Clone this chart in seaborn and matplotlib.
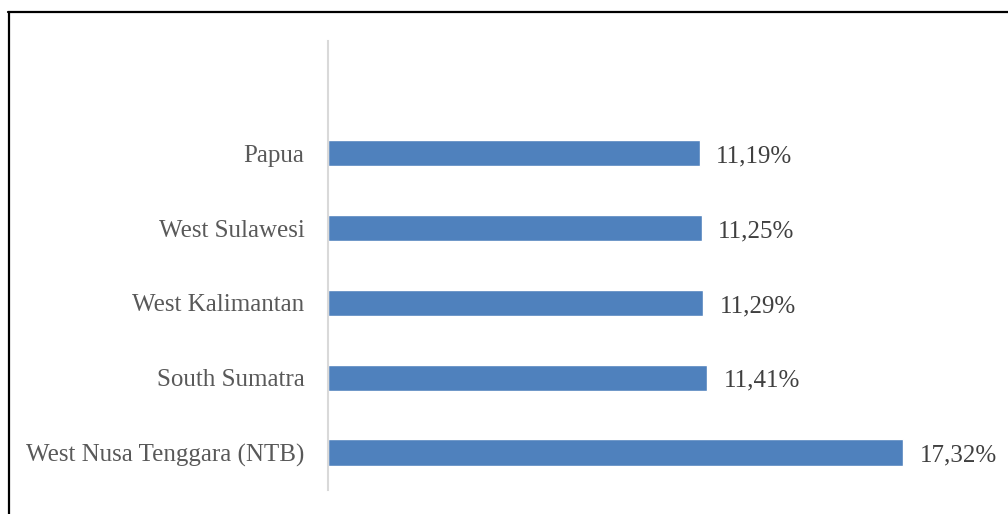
import matplotlib
matplotlib.use("Agg")
import matplotlib.pyplot as plt
import pandas as pd
import seaborn as sns
from matplotlib.lines import Line2D

provinces = ["Papua", "West Sulawesi", "West Kalimantan", "South Sumatra", "West Nusa Tenggara (NTB)"]
values = [11.19, 11.25, 11.29, 11.41, 17.32]


def main():
    sns.set_theme()
    sns.set_style("white")
    plt.rcParams["font.family"] = ["Liberation Serif", "DejaVu Serif"]

    df = pd.DataFrame({"province": provinces, "value": values})

    fig = plt.figure(figsize=(10.08, 5.14), dpi=100)
    ax = fig.add_axes([328 / 1008, 24 / 514, 664 / 1008, 449 / 514])

    sns.barplot(data=df, x="value", y="province", order=provinces, orient="h",
                color="#4F81BD", saturation=1, width=0.35, ax=ax)

    ax.set_xlim(0, 20)
    ax.set_ylim(4.5, -1.5)
    ax.set_xlabel("")
    ax.set_ylabel("")
    ax.set_xticks([])
    for side in ["top", "right", "bottom"]:
        ax.spines[side].set_visible(False)
    ax.spines["left"].set_color("#D9D9D9")
    ax.spines["left"].set_linewidth(1.5)
    ax.tick_params(axis="y", length=0, pad=17, labelsize=18, labelcolor="#595959")

    # data labels, slightly below the bar centre like the original
    for bar, v in zip(ax.containers[0], values):
        label = f"{v:.2f}%".replace(".", ",")
        ax.annotate(label, (bar.get_width(), bar.get_y() + bar.get_height() / 2),
                    xytext=(12, -2.2), textcoords="offset points",
                    ha="left", va="center", fontsize=18, color="#404040")

    # outer frame (right and bottom edges fall outside the image)
    fig.add_artist(Line2D([8 / 1008, 1.0], [502.5 / 514, 502.5 / 514], transform=fig.transFigure,
                          color="black", linewidth=1.6))
    fig.add_artist(Line2D([9 / 1008, 9 / 1008], [0.0, 502.5 / 514], transform=fig.transFigure,
                          color="black", linewidth=1.6))

    fig.savefig("out.png", dpi=100)


if __name__ == "__main__":
    main()
